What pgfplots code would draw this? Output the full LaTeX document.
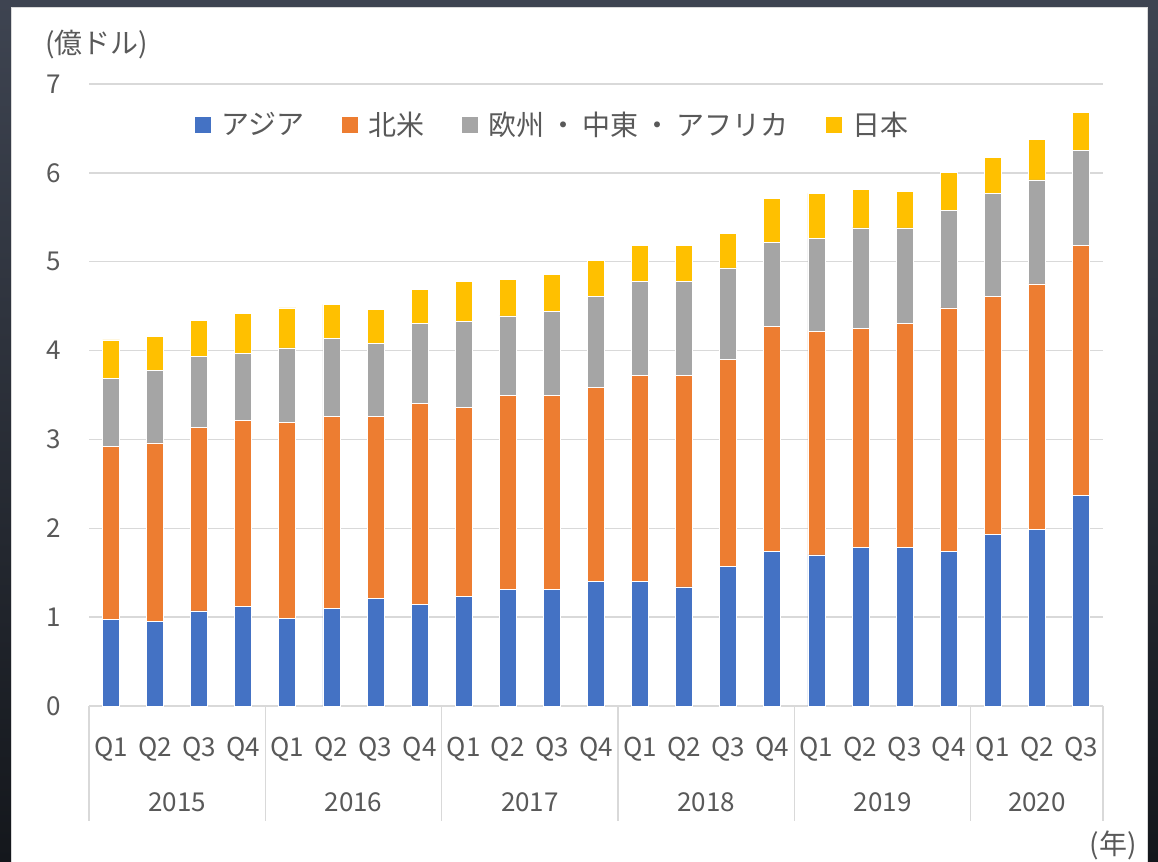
\documentclass[border=0pt]{standalone}
\usepackage{fontspec}
\setmainfont{Noto Sans CJK JP}
\usepackage{pgfplots}
\usepackage{pgfplotstable}
\pgfplotsset{compat=1.18}
\definecolor{cblue}{HTML}{4472C4}
\definecolor{corange}{HTML}{ED7D31}
\definecolor{cgray}{HTML}{A5A5A5}
\definecolor{cyellow}{HTML}{FFC000}
\definecolor{txt}{HTML}{595959}
\definecolor{gridc}{HTML}{D9D9D9}
\definecolor{bgtop}{HTML}{3E4451}
\definecolor{bgbot}{HTML}{14171C}
\pgfplotsset{sqlegend/.style={legend image code/.code={\fill[##1,draw=none] (0pt,-4pt) rectangle (8pt,4pt);}}}
\newcommand\tfont{\fontsize{13pt}{15pt}\selectfont}
\newcommand\lfont{\fontsize{14pt}{16pt}\selectfont}
\pgfplotstableread{
i asia na emea jp
0 0.97 1.95 0.77 0.43
1 0.95 2.01 0.82 0.38
2 1.07 2.06 0.80 0.41
3 1.12 2.09 0.76 0.45
4 0.99 2.20 0.84 0.45
5 1.10 2.16 0.88 0.38
6 1.21 2.05 0.82 0.38
7 1.14 2.26 0.91 0.38
8 1.23 2.13 0.97 0.45
9 1.31 2.18 0.90 0.41
10 1.31 2.18 0.95 0.42
11 1.40 2.19 1.02 0.40
12 1.40 2.32 1.06 0.40
13 1.34 2.38 1.06 0.40
14 1.57 2.33 1.03 0.39
15 1.74 2.53 0.95 0.49
16 1.70 2.52 1.04 0.51
17 1.78 2.47 1.13 0.43
18 1.78 2.53 1.07 0.41
19 1.74 2.74 1.10 0.42
20 1.93 2.68 1.16 0.40
21 1.99 2.76 1.17 0.46
22 2.37 2.81 1.07 0.43
}\datatable
\begin{document}
\begin{tikzpicture}
\shade[top color=bgtop, bottom color=bgbot] (0pt,0pt) rectangle (579pt,431pt);
\fill[white] (5.5pt,0pt) rectangle (574pt,427.5pt);
\draw[gridc, line width=0.5pt] (5.75pt,0pt) -- (5.75pt,427.25pt) -- (573.75pt,427.25pt) -- (573.75pt,0pt);
\begin{axis}[
  at={(44.5pt,78pt)}, anchor=south west,
  width=507pt, height=311pt, scale only axis,
  ybar stacked, bar width=8.5pt,
  every axis plot post/.append style={sqlegend},
  xmin=-0.5, xmax=22.5, ymin=0, ymax=7,
  xtick={0,...,22},
  xticklabels={Q1,Q2,Q3,Q4,Q1,Q2,Q3,Q4,Q1,Q2,Q3,Q4,Q1,Q2,Q3,Q4,Q1,Q2,Q3,Q4,Q1,Q2,Q3},
  ytick={0,...,7},
  ymajorgrids, grid style={gridc, line width=0.75pt},
  major tick length=0pt,
  axis line style={draw=none},
  /pgf/number format/assume math mode=true,
  xticklabel style={font=\tfont, text=txt, anchor=base, inner sep=0pt, yshift=-25.5pt},
  yticklabel style={font=\tfont, text=txt, anchor=east, inner sep=0pt, xshift=-14pt},
  clip=false,
  legend columns=4,
  legend style={at={(0.1045,0.934)}, anchor=west, draw=none, fill=none, inner sep=0pt,
    font=\lfont, text=txt,
    nodes={inner sep=0pt},
    /tikz/every odd column/.append style={column sep=5pt},
    /tikz/every even column/.append style={column sep=19pt}},
  legend cell align=left,
]
\addplot[fill=cblue, draw=white, line width=0.4pt] table[x=i,y=asia]{\datatable};
\addlegendentry{アジア}
\addplot[fill=corange, draw=white, line width=0.4pt] table[x=i,y=na]{\datatable};
\addlegendentry{北米}
\addplot[fill=cgray, draw=white, line width=0.4pt] table[x=i,y=emea]{\datatable};
\addlegendentry{欧州\hspace{2.5pt}・\hspace{2.5pt}中東\hspace{2.5pt}・\hspace{2.5pt}アフリカ}
\addplot[fill=cyellow, draw=white, line width=0.4pt] table[x=i,y=jp]{\datatable};
\addlegendentry{日本}
\draw[gridc, line width=0.75pt] (axis cs:-0.5,0) -- ++(0pt,-57.5pt);
\draw[gridc, line width=0.75pt] (axis cs:3.5,0) -- ++(0pt,-57.5pt);
\draw[gridc, line width=0.75pt] (axis cs:7.5,0) -- ++(0pt,-57.5pt);
\draw[gridc, line width=0.75pt] (axis cs:11.5,0) -- ++(0pt,-57.5pt);
\draw[gridc, line width=0.75pt] (axis cs:15.5,0) -- ++(0pt,-57.5pt);
\draw[gridc, line width=0.75pt] (axis cs:19.5,0) -- ++(0pt,-57.5pt);
\draw[gridc, line width=0.75pt] (axis cs:22.5,0) -- ++(0pt,-57.5pt);
\node[anchor=base, text=txt, font=\tfont, inner sep=0pt] at ([yshift=-53pt]axis cs:1.5,0) {2015};
\node[anchor=base, text=txt, font=\tfont, inner sep=0pt] at ([yshift=-53pt]axis cs:5.5,0) {2016};
\node[anchor=base, text=txt, font=\tfont, inner sep=0pt] at ([yshift=-53pt]axis cs:9.5,0) {2017};
\node[anchor=base, text=txt, font=\tfont, inner sep=0pt] at ([yshift=-53pt]axis cs:13.5,0) {2018};
\node[anchor=base, text=txt, font=\tfont, inner sep=0pt] at ([yshift=-53pt]axis cs:17.5,0) {2019};
\node[anchor=base, text=txt, font=\tfont, inner sep=0pt] at ([yshift=-53pt]axis cs:21,0) {2020};
\end{axis}
\node[anchor=west, text=txt, font=\lfont, inner sep=0pt] at (22.5pt,408.5pt) {(億ドル)};
\node[anchor=east, text=txt, font=\lfont, inner sep=0pt] at (568.5pt,8.5pt) {(年)};
\pgfresetboundingbox
\useasboundingbox (0pt,0pt) rectangle (579pt,431pt);
\end{tikzpicture}
\end{document}
